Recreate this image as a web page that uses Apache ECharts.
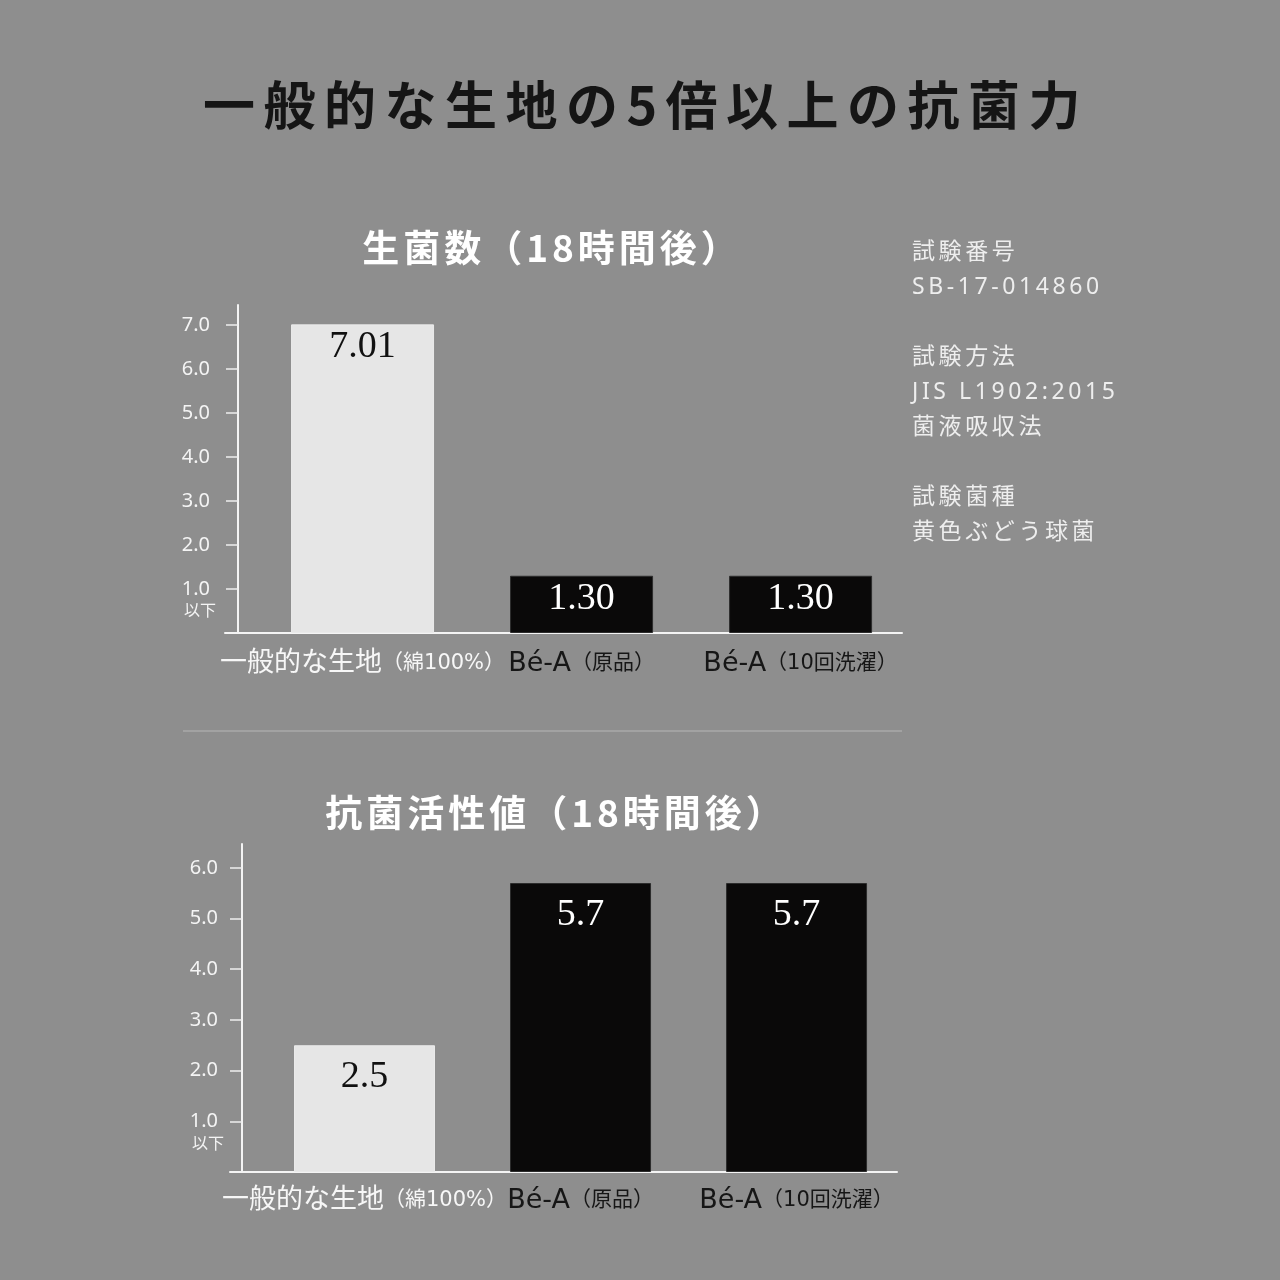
<!DOCTYPE html>
<html><head><meta charset="utf-8">
<script src="https://cdn.jsdelivr.net/npm/echarts@6/dist/echarts.min.js"></script>
<style>html,body{margin:0;padding:0;background:#8e8e8e}#c{width:1280px;height:1280px}</style>
</head><body><div id="c"></div>
<script>
// ---- data ----
const mainTitle = '一般的な生地の5倍以上の抗菌力';
const chart1Title = '生菌数（18時間後）';
const chart2Title = '抗菌活性値（18時間後）';
const categories = ['一般的な生地（綿100%）', 'Bé-A（原品）', 'Bé-A（10回洗濯）'];
const viableCount = [7.01, 1.30, 1.30];
const activityValue = [2.5, 5.7, 5.7];
const chart1Ticks = [1, 2, 3, 4, 5, 6, 7];
const chart2Ticks = [1, 2, 3, 4, 5, 6];
const belowLabel = '以下';
const infoLines = ['試験番号', 'SB-17-014860', '', '試験方法', 'JIS L1902:2015', '菌液吸収法', '', '試験菌種', '黄色ぶどう球菌'];

// ---- styles ----
const BG = '#8e8e8e';
const AXIS = '#f4f4f4';
const LIGHT = '#e6e6e6';
const DARK = '#0a0909';
const SANS = '"Noto Sans", "Noto Sans CJK JP", sans-serif';
const CATFONT = '"DejaVu Sans", "Noto Sans CJK JP", sans-serif';
const CJK = '"Noto Sans CJK JP", sans-serif';
const SERIF = '"Liberation Serif", "DejaVu Serif", serif';

// tracking (letter spacing) for the plain-text headings only, keyed by font size in px
const TRACKING = { '52': '8.5px', '37': '4px', '23': '3.6px' };
(function () {
  const proto = CanvasRenderingContext2D.prototype;
  if (!('letterSpacing' in proto)) return;
  const orig = proto.fillText;
  proto.fillText = function (t, x, y, w) {
    const f = this.font || '';
    const m = /(\d+(?:\.\d+)?)px/.exec(f);
    const ls = (m && TRACKING[m[1]]) || '0px';
    if (this.letterSpacing !== ls) { this.letterSpacing = ls; this.font = f; }
    return w === undefined ? orig.call(this, t, x, y) : orig.call(this, t, x, y, w);
  };
})();

function barData(vals) {
  return vals.map((v, i) => ({
    value: [i, v],
    itemStyle: { color: i === 0 ? LIGHT : DARK, borderColor: i === 0 ? '#eaeaea' : '#2c2c2c', borderWidth: 1 },
    label: { color: i === 0 ? '#111111' : '#ffffff' }
  }));
}
function splitCat(c) { const k = c.indexOf('（'); return [c.slice(0, k), c.slice(k)]; }
function catLabel(v) {
  const i = Math.round(v);
  const parts = splitCat(categories[i]);
  return i === 0 ? '{wa|' + parts[0] + '}{wb|' + parts[1] + '}' : '{da|' + parts[0] + '}{db|' + parts[1] + '}';
}
const catRich = {
  wa: { color: '#f7f7f7', fontSize: 27, fontFamily: CATFONT },
  wb: { color: '#f7f7f7', fontSize: 21, fontFamily: CATFONT },
  da: { color: '#161616', fontSize: 27, fontFamily: CATFONT },
  db: { color: '#161616', fontSize: 21, fontFamily: CATFONT }
};
function xAx(gi, min, max, margin) {
  return {
    gridIndex: gi, type: 'value', min: min, max: max,
    splitLine: { show: false }, axisTick: { show: false },
    axisLine: { show: true, onZero: false, lineStyle: { color: AXIS, width: 2 } },
    axisLabel: { customValues: [0, 1, 2], formatter: catLabel, margin: margin, rich: catRich }
  };
}
function yAx(gi, max, ticks, offset, margin) {
  return {
    gridIndex: gi, type: 'value', position: 'left', min: 0, max: max, offset: offset,
    splitLine: { show: false },
    axisLine: { show: true, onZero: false, lineStyle: { color: AXIS, width: 2 } },
    axisTick: { show: true, customValues: ticks, length: 12, lineStyle: { color: '#eeeeee', width: 1.5 } },
    axisLabel: { customValues: ticks, formatter: v => v.toFixed(1), margin: margin, color: AXIS, fontSize: 20, fontFamily: SANS }
  };
}
function yNote(gi, max, ticks, offset, margin, lh) {
  return {
    gridIndex: gi, type: 'value', position: 'left', min: 0, max: max, offset: offset,
    splitLine: { show: false }, axisLine: { show: false }, axisTick: { show: false },
    axisLabel: { customValues: [ticks[0]], formatter: () => belowLabel, margin: margin, verticalAlign: 'top', lineHeight: lh, color: AXIS, fontSize: 16, fontFamily: CJK }
  };
}
function barLabel(distance, digits) {
  return { show: true, position: 'insideTop', distance: distance, fontSize: 38, fontFamily: SERIF, formatter: p => p.value[1].toFixed(digits) };
}

const chart = echarts.init(document.getElementById('c'));
chart.setOption({
  backgroundColor: BG,
  animation: false,
  grid: [
    { left: 225, width: 677, top: 305, height: 328 },
    { left: 230, width: 667, top: 844, height: 328 }
  ],
  xAxis: [xAx(0, -0.628, 2.463, 17), xAx(1, -0.6227, 2.465, 15)],
  yAxis: [
    yAx(0, 7.45, chart1Ticks, -13, 28),
    yNote(0, 7.45, chart1Ticks, -13, 22, 42),
    yAx(1, 6.47, chart2Ticks, -12, 24),
    yNote(1, 6.47, chart2Ticks, -12, 18, 44)
  ],
  series: [
    { type: 'bar', xAxisIndex: 0, yAxisIndex: 0, barWidth: 143, data: barData(viableCount), label: barLabel(4, 2) },
    { type: 'bar', xAxisIndex: 1, yAxisIndex: 2, barWidth: 141, data: barData(activityValue), label: barLabel(13, 1) }
  ],
  graphic: [
    { type: 'text', x: 646, y: 105, style: { text: mainTitle, font: 'bold 52px ' + CJK, fill: '#151515', align: 'center', verticalAlign: 'middle' } },
    { type: 'text', x: 552, y: 248, style: { text: chart1Title, font: 'bold 37px ' + CJK, fill: '#ffffff', align: 'center', verticalAlign: 'middle' } },
    { type: 'text', x: 556, y: 813, style: { text: chart2Title, font: 'bold 37px ' + CJK, fill: '#ffffff', align: 'center', verticalAlign: 'middle' } },
    { type: 'text', x: 912, y: 235, style: { text: infoLines.join('\n'), font: '23px ' + SANS, lineHeight: 35, fill: '#eeeeee', align: 'left', verticalAlign: 'top' } },
    { type: 'line', shape: { x1: 183, y1: 731, x2: 902, y2: 731 }, style: { stroke: '#a2a2a2', lineWidth: 2 } }
  ]
});
</script>
</body></html>
